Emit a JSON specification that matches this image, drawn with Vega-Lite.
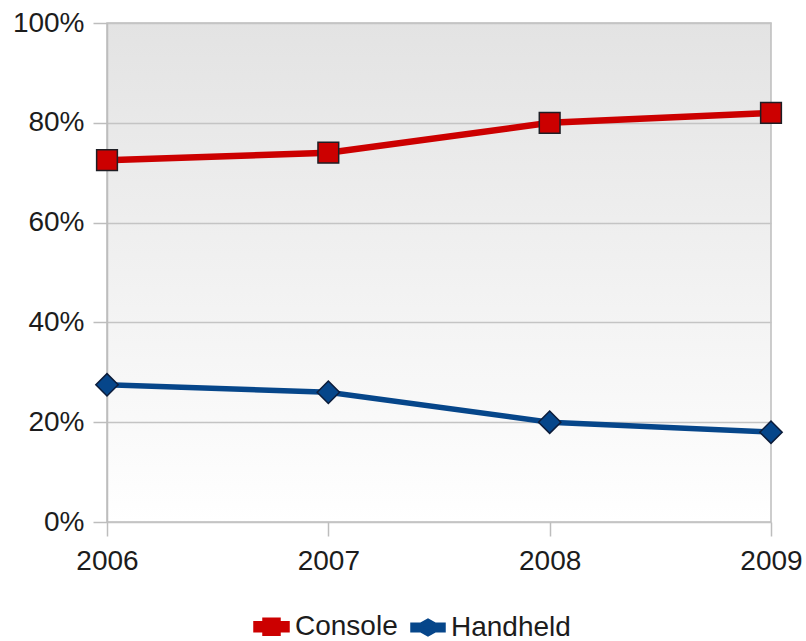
{
  "$schema": "https://vega.github.io/schema/vega-lite/v6.json",
  "width": 664,
  "height": 499,
  "autosize": {"type": "none"},
  "padding": {"left": 107, "top": 23, "right": 35, "bottom": 119},
  "background": "#ffffff",
  "view": {
    "fill": {
      "gradient": "linear",
      "x1": 0, "y1": 0, "x2": 0, "y2": 1,
      "stops": [
        {"offset": 0, "color": "#e3e3e3"},
        {"offset": 1, "color": "#ffffff"}
      ]
    },
    "stroke": "#bdbdbd",
    "strokeWidth": 1.5
  },
  "config": {
    "font": "Liberation Sans",
    "axis": {
      "labelFont": "Liberation Sans",
      "labelFontSize": 28,
      "labelColor": "#1c1c1c",
      "gridColor": "#c4c4c4",
      "gridWidth": 1.5,
      "tickColor": "#bdbdbd",
      "tickWidth": 1.5,
      "tickSize": 14,
      "domainColor": "#bdbdbd",
      "domainWidth": 1.5,
      "title": null
    }
  },
  "data": {
    "values": [
      {"year": 2006, "series": "Console", "share": 72.5},
      {"year": 2007, "series": "Console", "share": 74},
      {"year": 2008, "series": "Console", "share": 80},
      {"year": 2009, "series": "Console", "share": 82},
      {"year": 2006, "series": "Handheld", "share": 27.5},
      {"year": 2007, "series": "Handheld", "share": 26},
      {"year": 2008, "series": "Handheld", "share": 20},
      {"year": 2009, "series": "Handheld", "share": 18}
    ]
  },
  "encoding": {
    "x": {
      "field": "year",
      "type": "quantitative",
      "scale": {"domain": [2006, 2009], "nice": false, "zero": false},
      "axis": {
        "values": [2006, 2007, 2008, 2009],
        "format": "d",
        "grid": false,
        "domain": false,
        "labelPadding": 11,
        "labelFlush": false
      }
    },
    "y": {
      "field": "share",
      "type": "quantitative",
      "scale": {"domain": [0, 100], "nice": false},
      "axis": {
        "values": [0, 20, 40, 60, 80, 100],
        "labelExpr": "datum.value + '%'",
        "grid": true,
        "labelPadding": 9,
        "labelFlush": false
      }
    },
    "color": {
      "field": "series",
      "type": "nominal",
      "scale": {"domain": ["Console", "Handheld"], "range": ["#cc0000", "#06468a"]},
      "legend": {
        "orient": "none",
        "direction": "horizontal",
        "legendX": 146,
        "legendY": 585,
        "title": null,
        "padding": 0,
        "symbolType": {
          "expr": "datum.value === 'Console' ? 'M-1,-0.17H-0.4V-0.4H0.4V-0.17H1V0.17H0.4V0.4H-0.4V0.17H-1Z' : 'M-1,-0.15H-0.45L0,-0.4L0.45,-0.15H1V0.15H0.45L0,0.4L-0.45,0.15H-1Z'"
        },
        "symbolSize": 900,
        "symbolStrokeColor": "#1e1e24",
        "symbolStrokeWidth": 1,
        "symbolOpacity": 1,
        "labelFont": "Liberation Sans",
        "labelFontSize": 28,
        "labelColor": "#1c1c1c",
        "labelOffset": 5,
        "columnPadding": 4
      }
    }
  },
  "layer": [
    {
      "mark": {"type": "line"},
      "encoding": {
        "strokeWidth": {
          "field": "series",
          "type": "nominal",
          "scale": {"domain": ["Console", "Handheld"], "range": [6.5, 5.5]},
          "legend": null
        }
      }
    },
    {
      "transform": [{"filter": "datum.series === 'Console'"}],
      "mark": {"type": "point", "shape": "square", "size": 430, "filled": true, "opacity": 1, "stroke": "#1e1e24", "strokeWidth": 1.5}
    },
    {
      "transform": [{"filter": "datum.series === 'Handheld'"}],
      "mark": {"type": "point", "shape": "diamond", "size": 500, "filled": true, "opacity": 1, "stroke": "#0c1c3a", "strokeWidth": 1.5}
    }
  ]
}
